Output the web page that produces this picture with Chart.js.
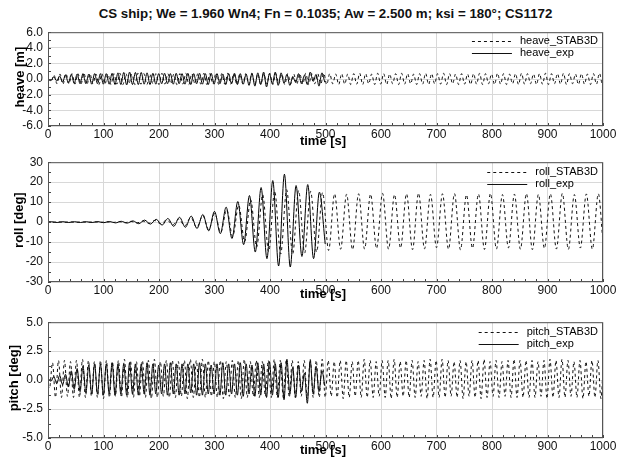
<!DOCTYPE html>
<html>
<head>
<meta charset="utf-8">
<script src="https://cdn.jsdelivr.net/npm/chart.js@4.4.1/dist/chart.umd.min.js"></script>
<style>
  html, body { margin: 0; padding: 0; background: #fff; }
  #wrap { position: relative; width: 625px; height: 459px; background: #fff; overflow: hidden; }
  #title { position: absolute; left: 48px; width: 555px; top: 6px; text-align: center;
           font: bold 13.3px "Liberation Sans", Arial, sans-serif; line-height: 16px; color: #111; }
  canvas { position: absolute; left: 0; }
</style>
</head>
<body>
<div id="wrap">
  <div id="title">CS ship; We = 1.960 Wn4; Fn = 0.1035; Aw = 2.500 m; ksi = 180°; CS1172</div>
  <canvas id="heaveChart" width="625" height="130" style="top:20px"></canvas>
  <canvas id="rollChart" width="625" height="158" style="top:150px"></canvas>
  <canvas id="pitchChart" width="625" height="149" style="top:310px"></canvas>
</div>
<script>
// time axis ticks
const timeTicks = [0, 100, 200, 300, 400, 500, 600, 700, 800, 900, 1000];

// sampling of the read-off extrema (start time, step in s)
const heaveSimStart = 0, heaveSimStep = 5.4;
const pitchSimStart = -2.7, pitchSimStep = 5.4;
const rollSimStart = -2, rollSimStep = 10.8;
const heaveExpStart = 0, heaveExpStep = 5.25;
const pitchExpStart = 0, pitchExpStep = 5.25;
const rollExpStart = -4.5, rollExpStep = 10.5;

// heave [m], STAB3D (dashed)
const heaveSim = [
  0.1, -0.3, 0.5, -0.6, 0.65, -0.65, 0.7, -0.6, 0.7, -0.65,
  0.7, -0.65, 0.75, -0.7, 0.7, -0.6, 0.65, -0.7, 0.7, -0.65,
  0.65, -0.7, 0.7, -0.65, 0.75, -0.7, 0.7, -0.6, 0.65, -0.7,
  0.75, -0.65, 0.7, -0.7, 0.65, -0.6, 0.7, -0.7, 0.75, -0.65,
  0.7, -0.6, 0.65, -0.7, 0.7, -0.65, 0.75, -0.7, 0.7, -0.6,
  0.7, -0.65, 0.75, -0.7, 0.7, -0.6, 0.65, -0.7, 0.7, -0.65,
  0.75, -0.65, 0.7, -0.7, 0.65, -0.6, 0.7, -0.7, 0.75, -0.65,
  0.65, -0.7, 0.7, -0.65, 0.75, -0.7, 0.7, -0.6, 0.65, -0.7,
  0.7, -0.6, 0.65, -0.7, 0.7, -0.65, 0.75, -0.7, 0.7, -0.6,
  0.7, -0.65, 0.75, -0.7, 0.7, -0.6, 0.65, -0.7, 0.7, -0.65,
  0.65, -0.7, 0.7, -0.65, 0.75, -0.7, 0.7, -0.6, 0.65, -0.7,
  0.75, -0.65, 0.7, -0.7, 0.65, -0.6, 0.7, -0.7, 0.75, -0.65,
  0.7, -0.6, 0.65, -0.7, 0.7, -0.65, 0.75, -0.7, 0.7, -0.6,
  0.7, -0.65, 0.75, -0.7, 0.7, -0.6, 0.65, -0.7, 0.7, -0.65,
  0.65, -0.7, 0.7, -0.65, 0.75, -0.7, 0.7, -0.6, 0.65, -0.7,
  0.75, -0.65, 0.7, -0.7, 0.65, -0.6, 0.7, -0.7, 0.75, -0.65,
  0.7, -0.6, 0.65, -0.7, 0.7, -0.65, 0.75, -0.7, 0.7, -0.6,
  0.7, -0.65, 0.75, -0.7, 0.7, -0.6, 0.65, -0.7, 0.7, -0.65,
  0.65, -0.7, 0.7, -0.65, 0.75, -0.7, 0.7, -0.6, 0.65, -0.7
];

// heave [m], experiment (solid)
const heaveExp = [
  0.1, -0.2, 0.3, -0.25, 0.4, -0.4, 0.55, -0.5, 0.6, -0.55,
  0.65, -0.6, 0.7, -0.6, 0.65, -0.65, 0.7, -0.6, 0.7, -0.65,
  0.7, -0.65, 0.75, -0.7, 0.8, -0.7, 0.85, -0.75, 0.9, -0.7,
  0.85, -0.7, 0.85, -0.65, 0.8, -0.7, 0.75, -0.65, 0.7, -0.6,
  0.75, -0.6, 0.7, -0.65, 0.75, -0.6, 0.7, -0.65, 0.75, -0.7,
  0.7, -0.6, 0.75, -0.65, 0.7, -0.7, 0.75, -0.65, 0.7, -0.6,
  0.65, -0.7, 0.7, -0.6, 0.75, -0.7, 0.7, -0.65, 0.65, -0.8,
  0.75, -0.9, 0.8, -0.7, 0.9, -1.0, 0.7, -0.6, 0.9, -0.8,
  0.8, -0.5, 0.6, -0.8, 0.3, -0.4, 0.7, -0.6, 0.5, -0.7,
  0.9, -0.3, 0.6, -0.9, 0.8, -0.4
];

// roll [deg], STAB3D (dashed)
const rollSim = [
  0.0, -0.1, 0.1, -0.1, 0.1, -0.1, 0.1, -0.1, 0.15, -0.15,
  0.2, -0.2, 0.25, -0.3, 0.35, -0.4, 0.5, -0.6, 0.8, -0.9,
  1.1, -1.3, 1.6, -1.9, 2.3, -2.7, 3.2, -3.8, 4.4, -5.2,
  6.2, -7.2, 8.5, -9.8, 11.2, -12.5, 13.8, -14.8, 15.6, -16.0,
  16.2, -16.0, 15.8, -15.5, 15.4, -15.0, 14.8, -14.2, 14.2, -13.6,
  14.0, -13.8, 14.2, -13.5, 14.0, -13.2, 14.4, -13.6, 13.8, -13.0,
  14.2, -13.8, 14.5, -13.4, 13.9, -12.8, 14.2, -13.6, 14.3, -13.9,
  13.7, -13.1, 14.1, -13.7, 14.4, -13.5, 13.8, -12.9, 14.0, -13.6,
  14.3, -13.8, 13.9, -13.2, 14.2, -13.5, 14.4, -13.7, 13.8, -13.0,
  14.1, -13.6, 14.2, -13.5, 14.0
];

// roll [deg], experiment (solid)
const rollExp = [
  0.0, 0.2, -0.2, 0.2, -0.2, 0.2, -0.2, 0.2, -0.2, 0.25,
  -0.3, 0.3, -0.4, 0.4, -0.5, 0.6, -0.8, 1.0, -1.0, 1.4,
  -1.5, 1.8, -2.1, 2.4, -2.6, 3.0, -3.2, 3.8, -4.4, 5.4,
  -5.8, 7.5, -8.2, 10.3, -11.3, 13.3, -15.0, 17.3, -18.3, 20.8,
  -22.0, 24.0, -22.5, 18.3, -17.2, 18.8, -18.3, 15.0, -11.0
];

// pitch [deg], STAB3D (dashed)
const pitchSim = [
  0.1, -0.7, 1.5, -1.5, 1.7, -1.5, 1.7, -1.4, 1.6, -1.5,
  1.7, -1.5, 1.8, -1.5, 1.7, -1.4, 1.6, -1.5, 1.7, -1.6,
  1.7, -1.5, 1.6, -1.4, 1.7, -1.5, 1.8, -1.5, 1.7, -1.5,
  1.6, -1.4, 1.7, -1.5, 1.7, -1.6, 1.8, -1.5, 1.6, -1.4,
  1.7, -1.5, 1.7, -1.5, 1.6, -1.4, 1.7, -1.6, 1.8, -1.5,
  1.7, -1.5, 1.8, -1.5, 1.7, -1.4, 1.6, -1.5, 1.7, -1.6,
  1.6, -1.4, 1.7, -1.5, 1.7, -1.6, 1.8, -1.5, 1.6, -1.4,
  1.7, -1.5, 1.6, -1.4, 1.7, -1.5, 1.8, -1.5, 1.7, -1.5,
  1.7, -1.5, 1.7, -1.5, 1.6, -1.4, 1.7, -1.6, 1.8, -1.5,
  1.7, -1.5, 1.8, -1.5, 1.7, -1.4, 1.6, -1.5, 1.7, -1.6,
  1.7, -1.5, 1.6, -1.4, 1.7, -1.5, 1.8, -1.5, 1.7, -1.5,
  1.6, -1.4, 1.7, -1.5, 1.7, -1.6, 1.8, -1.5, 1.6, -1.4,
  1.7, -1.5, 1.7, -1.5, 1.6, -1.4, 1.7, -1.6, 1.8, -1.5,
  1.7, -1.5, 1.8, -1.5, 1.7, -1.4, 1.6, -1.5, 1.7, -1.6,
  1.6, -1.4, 1.7, -1.5, 1.7, -1.6, 1.8, -1.5, 1.6, -1.4,
  1.7, -1.5, 1.6, -1.4, 1.7, -1.5, 1.8, -1.5, 1.7, -1.5,
  1.7, -1.5, 1.7, -1.5, 1.6, -1.4, 1.7, -1.6, 1.8, -1.5,
  1.7, -1.5, 1.8, -1.5, 1.7, -1.4, 1.6, -1.5, 1.7, -1.6,
  1.6, -1.4, 1.7, -1.5, 1.7, -1.6, 1.8, -1.5, 1.6, -1.4
];

// pitch [deg], experiment (solid)
const pitchExp = [
  0.2, -0.1, 0.3, -0.3, 0.4, -0.4, 0.5, -0.6, 0.8, -0.8,
  1.0, -1.0, 1.2, -1.1, 1.3, -1.2, 1.4, -1.2, 1.4, -1.3,
  1.4, -1.2, 1.5, -1.3, 1.4, -1.2, 1.4, -1.3, 1.5, -1.2,
  1.4, -1.3, 1.4, -1.2, 1.5, -1.3, 1.4, -1.2, 1.3, -1.2,
  1.4, -1.3, 1.5, -1.2, 1.4, -1.3, 1.4, -1.2, 1.4, -1.1,
  1.4, -1.3, 1.5, -1.3, 1.4, -1.2, 1.3, -1.2, 1.4, -1.3,
  1.5, -1.3, 1.4, -1.2, 1.4, -1.3, 1.5, -1.4, 1.4, -1.2,
  1.3, -1.4, 1.5, -1.3, 1.4, -1.5, 1.6, -1.3, 1.4, -1.5,
  1.5, -1.7, 1.8, -1.2, 1.1, -1.5, 1.3, -1.0, 0.6, -2.0,
  1.7, -1.2, 1.2, -1.0, 0.8, -0.5
];

const toPoints = (values, start, step) => values.map((v, i) => ({ x: start + i * step, y: v }));

const FONT = '"Liberation Sans", Arial, Helvetica, sans-serif';

// frame, minor ticks, axis titles and the in-plot key
const framePlugin = {
  id: 'frame',
  afterDraw(chart, args, opts) {
    const { ctx, chartArea: { left, right, top, bottom }, scales: { x, y } } = chart;
    ctx.save();

    // minor ticks along the bottom and left edge
    ctx.strokeStyle = '#444';
    ctx.lineWidth = 1;
    ctx.beginPath();
    for (let t = 0; t <= 1000; t += 20) {
      const px = Math.round(x.getPixelForValue(t)) + 0.5;
      ctx.moveTo(px, bottom);
      ctx.lineTo(px, bottom - 3);
    }
    for (let v = y.min; v <= y.max + 1e-9; v += opts.minorY) {
      const py = Math.round(y.getPixelForValue(v)) + 0.5;
      ctx.moveTo(left, py);
      ctx.lineTo(left + 3, py);
    }
    ctx.stroke();

    // frame
    ctx.strokeStyle = '#555';
    ctx.strokeRect(left + 0.5, top + 0.5, right - left - 1, bottom - top - 1);

    // axis titles
    ctx.fillStyle = '#000';
    ctx.font = 'bold 13px ' + FONT;
    ctx.textAlign = 'center';
    ctx.textBaseline = 'middle';
    ctx.fillText('time [s]', 323, bottom + opts.timeDy);
    ctx.save();
    ctx.translate(opts.yTitleX, (top + bottom) / 2 - 2);
    ctx.rotate(-Math.PI / 2);
    ctx.fillText(opts.yTitle, 0, 0);
    ctx.restore();

    // key, top right
    ctx.font = '11px ' + FONT;
    ctx.textAlign = 'left';
    const labels = chart.data.datasets.map(d => d.label);
    const w = Math.max(...labels.map(l => ctx.measureText(l).width));
    const textX = right - 5 - w;
    chart.data.datasets.forEach((d, i) => {
      const ky = top + opts.keyTop + i * 12;
      ctx.strokeStyle = '#111';
      ctx.setLineDash(d.borderDash || []);
      ctx.beginPath();
      ctx.moveTo(textX - 48, Math.round(ky) + 0.5);
      ctx.lineTo(textX - 8, Math.round(ky) + 0.5);
      ctx.stroke();
      ctx.setLineDash([]);
      ctx.fillText(d.label, textX, ky);
    });
    ctx.restore();
  }
};

function makePanel(id, cfg) {
  const ctx = document.getElementById(id).getContext('2d');
  return new Chart(ctx, {
    type: 'line',
    data: {
      datasets: [
        {
          label: cfg.names[0],
          data: cfg.sim,
          borderColor: '#111',
          borderWidth: 1,
          borderDash: [3, 3],
          pointRadius: 0,
          cubicInterpolationMode: 'monotone',
          fill: false
        },
        {
          label: cfg.names[1],
          data: cfg.exp,
          borderColor: '#000',
          borderWidth: 1,
          pointRadius: 0,
          cubicInterpolationMode: 'monotone',
          fill: false
        }
      ]
    },
    options: {
      responsive: false,
      animation: false,
      events: [],
      layout: { padding: { top: cfg.padTop, right: 22, left: 0, bottom: 0 } },
      plugins: {
        legend: { display: false },
        tooltip: { enabled: false },
        frame: {
          yTitle: cfg.yTitle,
          yTitleX: cfg.yTitleX,
          timeDy: cfg.timeDy,
          keyTop: cfg.keyTop,
          minorY: cfg.minorY
        }
      },
      scales: {
        x: {
          type: 'linear',
          min: 0,
          max: 1000,
          afterBuildTicks: (scale) => { scale.ticks = timeTicks.map(v => ({ value: v })); },
          afterFit: (scale) => { scale.height = cfg.xAxisH; },
          ticks: {
            color: '#111',
            padding: 1,
            maxRotation: 0,
            autoSkip: false,
            callback: (v) => String(v),
            font: { family: FONT, size: 12 }
          },
          grid: { color: '#d8d8d8', lineWidth: 1, drawTicks: false },
          border: { display: false }
        },
        y: {
          min: cfg.yMin,
          max: cfg.yMax,
          afterFit: (scale) => { scale.width = 48; },
          ticks: {
            stepSize: cfg.yStep,
            color: '#111',
            padding: 5,
            autoSkip: false,
            callback: cfg.yFormat,
            font: { family: FONT, size: 12 }
          },
          grid: { color: '#d8d8d8', lineWidth: 1, drawTicks: false },
          border: { display: false }
        }
      }
    },
    plugins: [framePlugin]
  });
}

makePanel('heaveChart', {
  names: ['heave_STAB3D', 'heave_exp'],
  sim: toPoints(heaveSim, heaveSimStart, heaveSimStep),
  exp: toPoints(heaveExp, heaveExpStart, heaveExpStep),
  yMin: -6, yMax: 6, yStep: 2, minorY: 1,
  yFormat: (v) => v.toFixed(1),
  yTitle: 'heave [m]', yTitleX: 20,
  padTop: 6, xAxisH: 24, timeDy: 15, keyTop: 9
});

makePanel('rollChart', {
  names: ['roll_STAB3D', 'roll_exp'],
  sim: toPoints(rollSim, rollSimStart, rollSimStep),
  exp: toPoints(rollExp, rollExpStart, rollExpStep),
  yMin: -30, yMax: 30, yStep: 10, minorY: 5,
  yFormat: (v) => String(v),
  yTitle: 'roll [deg]', yTitleX: 19,
  padTop: 11, xAxisH: 26, timeDy: 12, keyTop: 10
});

makePanel('pitchChart', {
  names: ['pitch_STAB3D', 'pitch_exp'],
  sim: toPoints(pitchSim, pitchSimStart, pitchSimStep),
  exp: toPoints(pitchExp, pitchExpStart, pitchExpStep),
  yMin: -5, yMax: 5, yStep: 2.5, minorY: 1.25,
  yFormat: (v) => v.toFixed(1),
  yTitle: 'pitch [deg]', yTitleX: 14,
  padTop: 10, xAxisH: 21, timeDy: 12, keyTop: 10
});
</script>
</body>
</html>
